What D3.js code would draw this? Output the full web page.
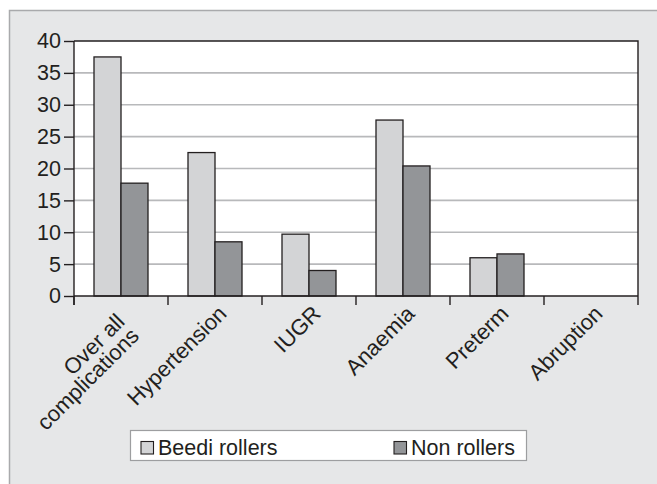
<!DOCTYPE html>
<html>
<head>
<meta charset="utf-8">
<script src="https://cdn.jsdelivr.net/npm/d3@7"></script>
<style>
  html, body { margin: 0; padding: 0; background: #ffffff; }
  svg { display: block; font-family: "Liberation Sans", Arial, sans-serif; }
</style>
</head>
<body>
<svg id="chart" width="657" height="484"></svg>
<script>
// Pregnancy complications (%) among beedi rollers and non rollers
const categories = [["Over all", "complications"], ["Hypertension"], ["IUGR"], ["Anaemia"], ["Preterm"], ["Abruption"]];
const seriesNames = ["Beedi rollers", "Non rollers"];
const beediRollers = [37.5, 22.5, 9.7, 27.6, 6.0, 0];
const nonRollers = [17.7, 8.5, 4.0, 20.4, 6.6, 0];
const yTicks = [0, 5, 10, 15, 20, 25, 30, 35, 40];
</script>
<script>
const svg = d3.select("#chart");
const W = 657, H = 484;
const colors = ["#d3d4d6", "#939598"];
const ink = "#231f20";

// panel background
svg.append("rect").attr("x", 9.5).attr("y", 10.5).attr("width", W).attr("height", H)
  .attr("fill", "#e6e7e8").attr("stroke", "#a9aaac").attr("stroke-width", 1.5);

const plot = { left: 74, right: 638, top: 41, bottom: 296 };

const x = d3.scaleBand().domain(d3.range(categories.length))
  .range([plot.left, plot.right]).paddingInner(0).paddingOuter(0);
const groupW = x.bandwidth() * 54 / 94;
const xs = d3.scaleBand().domain(d3.range(seriesNames.length))
  .range([0, groupW]).padding(0);
const y = d3.scaleLinear().domain([0, 40]).range([plot.bottom, plot.top]);

// plot area
svg.append("rect").attr("x", plot.left).attr("y", plot.top)
  .attr("width", plot.right - plot.left).attr("height", plot.bottom - plot.top)
  .attr("fill", "#ffffff");

// gridlines
svg.append("g").selectAll("line").data(yTicks.filter(t => t > 0 && t < 40)).join("line")
  .attr("x1", plot.left).attr("x2", plot.right)
  .attr("y1", d => y(d)).attr("y2", d => y(d))
  .attr("stroke", "#b8b9bb").attr("stroke-width", 1.6);

// bars
const series = [beediRollers, nonRollers];
const groups = svg.append("g").selectAll("g").data(d3.range(categories.length)).join("g")
  .attr("transform", i => `translate(${x(i) + (x.bandwidth() - groupW) / 2},0)`);
groups.selectAll("rect").data(i => series.map((s, k) => ({ k, v: s[i] })).filter(d => d.v > 0)).join("rect")
  .attr("x", d => xs(d.k)).attr("width", xs.bandwidth())
  .attr("y", d => y(d.v)).attr("height", d => y(0) - y(d.v))
  .attr("fill", d => colors[d.k]).attr("stroke", ink).attr("stroke-width", 1.3);

// frame: top and right edges
svg.append("path")
  .attr("d", `M${plot.left},${plot.top}H${plot.right}V${plot.bottom}`)
  .attr("fill", "none").attr("stroke", ink).attr("stroke-width", 1.4);

// y axis
const yAxis = svg.append("g").attr("transform", `translate(${plot.left},0)`)
  .call(d3.axisLeft(y).tickValues(yTicks).tickSize(10).tickPadding(3));
yAxis.select(".domain").attr("stroke", ink).attr("stroke-width", 1.4)
  .attr("d", `M0,${plot.top}V${plot.bottom + 9}`);
yAxis.selectAll(".tick line").attr("stroke", ink).attr("stroke-width", 1.4);
yAxis.selectAll(".tick text").attr("font-size", 21.5).attr("fill", ink)
  .attr("font-family", "Liberation Sans, Arial, sans-serif");

// x axis with ticks at band boundaries
const xTickPos = d3.range(categories.length + 1).map(i => plot.left + i * x.bandwidth());
svg.append("line").attr("x1", plot.left).attr("x2", plot.right)
  .attr("y1", plot.bottom).attr("y2", plot.bottom)
  .attr("stroke", ink).attr("stroke-width", 1.4);
svg.append("g").selectAll("line").data(xTickPos).join("line")
  .attr("x1", d => d).attr("x2", d => d)
  .attr("y1", plot.bottom).attr("y2", plot.bottom + 9)
  .attr("stroke", ink).attr("stroke-width", 1.4);

// rotated category labels
const labels = svg.append("g").selectAll("text").data(categories).join("text")
  .attr("transform", (d, i) => {
    const cx = x(i) + x.bandwidth() / 2;
    return d.length > 1
      ? `translate(${cx + 5},${plot.bottom + 27}) rotate(-45)`
      : `translate(${cx + 13},${plot.bottom + 19}) rotate(-45)`;
  })
  .attr("text-anchor", "end").attr("font-size", 22).attr("fill", ink);
labels.each(function (d) {
  d3.select(this).selectAll("tspan").data(d).join("tspan")
    .attr("x", 0).attr("dy", (t, j) => j === 0 ? 0 : "0.92em").text(t => t);
});

// legend
const lg = svg.append("g");
lg.append("rect").attr("x", 130.5).attr("y", 430.5).attr("width", 396).attr("height", 30)
  .attr("fill", "#ffffff").attr("stroke", "#9d9ea0").attr("stroke-width", 1.2);
const legendX = [141, 394];
seriesNames.forEach((name, k) => {
  lg.append("rect").attr("x", legendX[k]).attr("y", 441.5).attr("width", 12.5).attr("height", 12.5)
    .attr("fill", colors[k]).attr("stroke", ink).attr("stroke-width", 1.1);
  lg.append("text").attr("x", legendX[k] + 17).attr("y", 454.5)
    .attr("font-size", 21.5).attr("fill", ink).text(name);
});
</script>
</body>
</html>
